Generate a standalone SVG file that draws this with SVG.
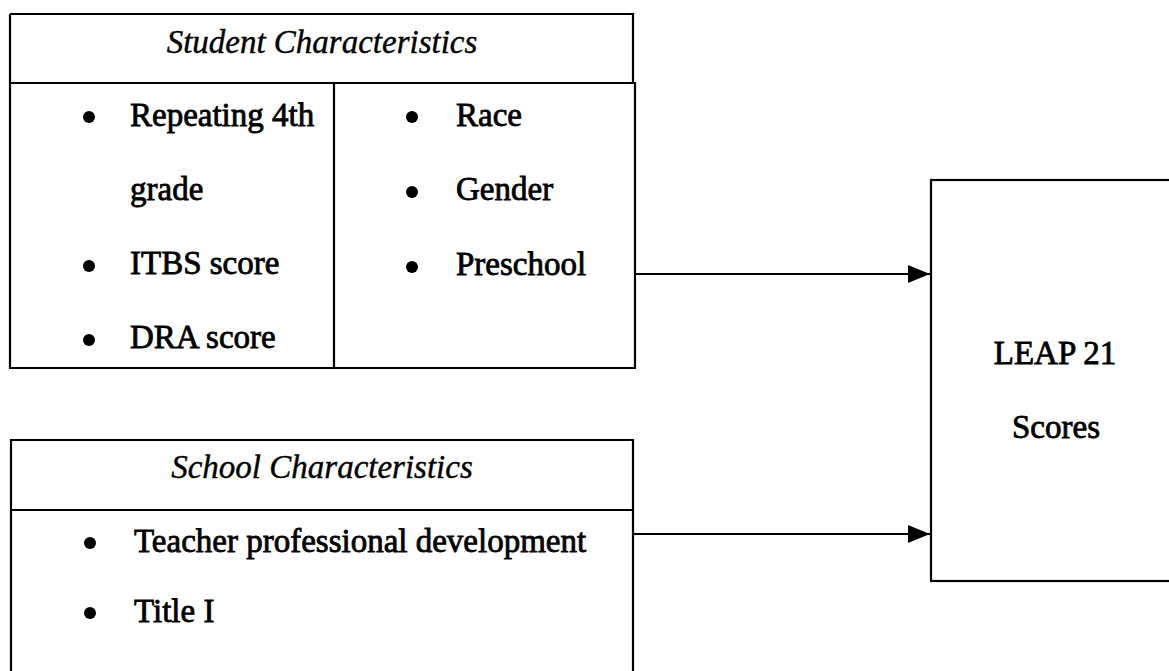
<svg xmlns="http://www.w3.org/2000/svg" width="1169" height="671" viewBox="0 0 1169 671">
<style>
.box{fill:none;stroke:#000;stroke-width:2.2}
.ln{fill:none;stroke:#000;stroke-width:2.2}
.t{font-family:"Liberation Serif","Times New Roman",serif;font-size:33px;fill:#000;stroke:#000;stroke-width:0.8}
.h{font-family:"Liberation Serif","Times New Roman",serif;font-size:33px;font-style:italic;fill:#000;stroke:#000;stroke-width:0.4;text-anchor:middle}
.c{text-anchor:middle}
.b{fill:#000}
</style>
<defs>
<marker id="ah" markerWidth="22" markerHeight="18" refX="22" refY="9" orient="auto" markerUnits="userSpaceOnUse">
<path d="M0,0 L22,9 L0,18 Z" fill="#000"/>
</marker>
</defs>
<rect width="1169" height="671" fill="#fff"/>
<g id="student">
<path class="box" d="M10,14 H633 V83 M10,14 V368 H635 V83 H10 M334,83 V368"/>
<text class="h" x="322" y="53">Student Characteristics</text>
<circle class="b" cx="89" cy="117" r="6"/>
<text class="t" x="130" y="126">Repeating 4th</text>
<text class="t" x="130" y="200">grade</text>
<circle class="b" cx="89" cy="266" r="6"/>
<text class="t" x="130" y="274">ITBS score</text>
<circle class="b" cx="89" cy="340" r="6"/>
<text class="t" x="130" y="348">DRA score</text>
<circle class="b" cx="412" cy="117" r="6"/>
<text class="t" x="456" y="126">Race</text>
<circle class="b" cx="412" cy="192" r="6"/>
<text class="t" x="456" y="200">Gender</text>
<circle class="b" cx="412" cy="267" r="6"/>
<text class="t" x="456" y="275">Preschool</text>
</g>
<g id="school">
<path class="box" d="M11,690 V440 H633 V690 M11,510 H633"/>
<text class="h" x="322" y="478">School Characteristics</text>
<circle class="b" cx="90" cy="543" r="6"/>
<text class="t" x="134" y="552">Teacher professional development</text>
<circle class="b" cx="90" cy="613" r="6"/>
<text class="t" x="134" y="622">Title I</text>
</g>
<g id="leap">
<rect class="box" x="931" y="180" width="260" height="401"/>
<text class="t c" x="1055" y="364">LEAP 21</text>
<text class="t c" x="1056" y="438">Scores</text>
</g>
<g id="connectors">
<line class="ln" x1="635" y1="274" x2="930" y2="274" marker-end="url(#ah)"/>
<line class="ln" x1="633" y1="534" x2="930" y2="534" marker-end="url(#ah)"/>
</g>
</svg>
